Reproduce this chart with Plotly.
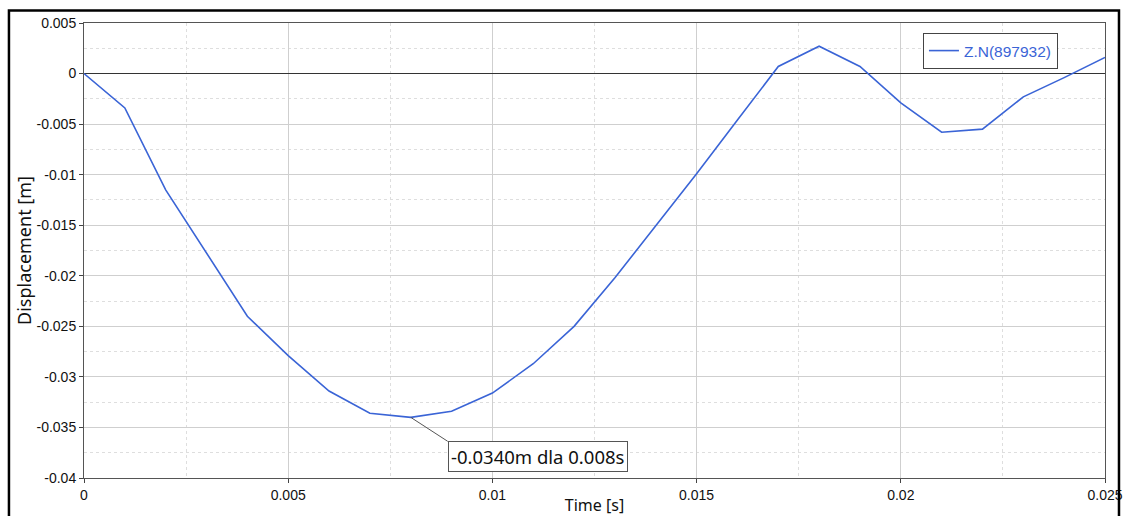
import plotly.graph_objects as go

# Time samples [s] and nodal displacement [m]
time_s = [0.000, 0.001, 0.002, 0.003, 0.004, 0.005, 0.006, 0.007, 0.008, 0.009,
          0.010, 0.011, 0.012, 0.013, 0.014, 0.015, 0.016, 0.017, 0.018, 0.019,
          0.020, 0.021, 0.022, 0.023, 0.024, 0.025]
disp_m = [0.0000, -0.0034, -0.0115, -0.0178, -0.0240, -0.0279, -0.0314, -0.0336, -0.0340, -0.0334,
          -0.0316, -0.0287, -0.0250, -0.0202, -0.0151, -0.0099, -0.0046, 0.0007, 0.0027, 0.0007,
          -0.0029, -0.0058, -0.0055, -0.0023, -0.0004, 0.0016]

series_name = "Z.N(897932)"

x_ticks = [0, 0.005, 0.01, 0.015, 0.02, 0.025]
x_labels = ["0", "0.005", "0.01", "0.015", "0.02", "0.025"]
y_ticks = [0.005, 0, -0.005, -0.01, -0.015, -0.02, -0.025, -0.03, -0.035, -0.04]
y_labels = ["0.005", "0", "-0.005", "-0.01", "-0.015", "-0.02", "-0.025", "-0.03", "-0.035", "-0.04"]

# Minimum point, labelled on the chart
min_idx = min(range(len(disp_m)), key=lambda i: disp_m[i])
min_t, min_d = time_s[min_idx], disp_m[min_idx]

line_color = "#3a64d6"
tick_font = dict(family="Liberation Sans, Arial", size=14, color="#111")
x_title_font = dict(family="Noto Sans, Open Sans", size=16, color="#111")
y_title_font = dict(family="Noto Sans, Open Sans", size=18, color="#111")

fig = go.Figure()
fig.add_trace(go.Scatter(
    x=time_s, y=disp_m, mode="lines", name=series_name,
    line=dict(color=line_color, width=1.6),
    showlegend=True,
))

axis_common = dict(
    showline=True, linecolor="#555", linewidth=1, mirror=True,
    ticks="outside", ticklen=4, tickcolor="#444", tickwidth=1,
    showgrid=True, gridcolor="#cfcfcf", gridwidth=1,
    tickfont=tick_font, automargin=False,
)

fig.update_xaxes(
    range=[0, 0.025], tickvals=x_ticks, ticktext=x_labels,
    zeroline=False,
    minor=dict(dtick=0.0025, showgrid=True, gridcolor="#dedede", griddash="dot", ticks=""),
    title=dict(text="Time [s]", font=x_title_font, standoff=6),
    **axis_common,
)
fig.update_yaxes(
    range=[-0.04, 0.005], tickvals=y_ticks, ticktext=y_labels,
    zeroline=True, zerolinecolor="#333", zerolinewidth=1,
    minor=dict(dtick=0.0025, tick0=0, showgrid=True, gridcolor="#dedede", griddash="dot", ticks=""),
    title=dict(text="Displacement [m]", font=y_title_font, standoff=0),
    **axis_common,
)

# Label for the minimum value
fig.add_annotation(
    x=min_t, y=min_d, xref="x", yref="y",
    text=f"{min_d:.4f}m dla {min_t:.3f}s",
    showarrow=True, arrowhead=0, arrowwidth=1, arrowcolor="#555",
    ax=37, ay=24, xanchor="left", yanchor="top",
    font=dict(family="Noto Sans, Open Sans", size=18.5, color="#111"),
    bgcolor="white", bordercolor="#555", borderwidth=1, borderpad=2,
)

# Outer frame around the whole chart
fig.add_shape(
    type="rect", xref="paper", yref="paper",
    x0=-0.0735, x1=1.0137, y0=-0.3, y1=1.0275,
    line=dict(color="#000", width=2.5), fillcolor="rgba(0,0,0,0)",
    layer="above",
)

fig.update_layout(
    width=1128, height=516,
    margin=dict(l=84, r=23, t=23, b=38),
    paper_bgcolor="white", plot_bgcolor="white",
    legend=dict(
        x=0.8217, y=0.978, xanchor="left", yanchor="top",
        bordercolor="#444", borderwidth=1, bgcolor="white",
        font=dict(family="Liberation Sans, Arial", size=15.5, color=line_color),
        itemwidth=30, tracegroupgap=0,
    ),
)

fig.write_html("out.html")
